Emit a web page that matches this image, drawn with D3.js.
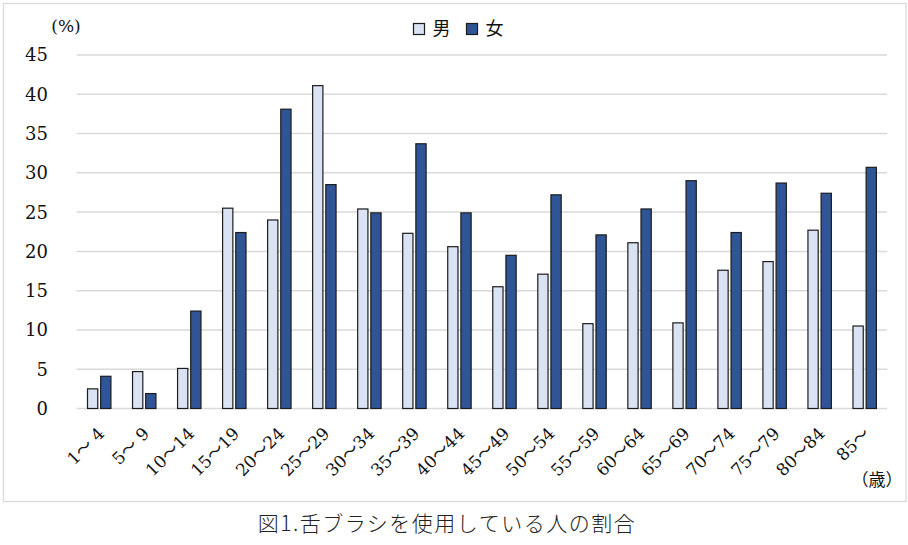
<!DOCTYPE html>
<html>
<head>
<meta charset="utf-8">
<script src="https://cdn.jsdelivr.net/npm/d3@7"></script>
<style>
  body { margin: 0; background: #fff; }
  svg { display: block; }
</style>
</head>
<body>
<div id="wrapper"></div>
<script>
// data
const ageGroups = ["1〜 4", "5〜 9", "10〜14", "15〜19", "20〜24", "25〜29", "30〜34", "35〜39", "40〜44",
                   "45〜49", "50〜54", "55〜59", "60〜64", "65〜69", "70〜74", "75〜79", "80〜84", "85〜"];
const maleValues   = [2.5, 4.7, 5.1, 25.5, 24.0, 41.1, 25.4, 22.3, 20.6, 15.5, 17.1, 10.8, 21.1, 10.9, 17.6, 18.7, 22.7, 10.5];
const femaleValues = [4.1, 1.9, 12.4, 22.4, 38.1, 28.5, 24.9, 33.7, 24.9, 19.5, 27.2, 22.1, 25.4, 29.0, 22.4, 28.7, 27.4, 30.7];
const seriesNames = ["男", "女"];
const yTicks = [0, 5, 10, 15, 20, 25, 30, 35, 40, 45];

const drawChart = () => {
  const dimensions = {
    width: 908,
    height: 545,
    plot: { left: 76.7, right: 887.2, top: 55, bottom: 408.5 }
  };

  const svg = d3.select("#wrapper")
    .append("svg")
    .attr("width", dimensions.width)
    .attr("height", dimensions.height);

  // chart border
  svg.append("rect")
    .attr("x", 3.5).attr("y", 3.5)
    .attr("width", 902.5).attr("height", 498)
    .attr("fill", "#fff")
    .attr("stroke", "#d9d9d9")
    .attr("stroke-width", 1.3);

  const table = ageGroups.map((g, i) => ({ group: g, "男": maleValues[i], "女": femaleValues[i] }));

  // scales
  const x0 = d3.scaleBand()
    .domain(ageGroups)
    .range([dimensions.plot.left, dimensions.plot.right])
    .paddingInner(0.48)
    .paddingOuter(0.24);

  const x1 = d3.scaleBand()
    .domain(seriesNames)
    .range([0, x0.bandwidth()])
    .paddingInner(0.22);

  const yScale = d3.scaleLinear()
    .domain([0, 45])
    .range([dimensions.plot.bottom, dimensions.plot.top]);

  const color = d3.scaleOrdinal()
    .domain(seriesNames)
    .range(["#dae3f3", "#2f5597"]);

  // gridlines
  svg.append("g")
    .selectAll("line")
    .data(yTicks)
    .join("line")
    .attr("x1", dimensions.plot.left)
    .attr("x2", dimensions.plot.right)
    .attr("y1", d => yScale(d))
    .attr("y2", d => yScale(d))
    .attr("stroke", "#d9d9d9")
    .attr("stroke-width", 1.5);

  // y tick labels
  svg.append("g")
    .selectAll("text")
    .data(yTicks)
    .join("text")
    .attr("x", 48)
    .attr("y", d => yScale(d))
    .attr("dy", "0.36em")
    .attr("text-anchor", "end")
    .attr("font-family", "'DejaVu Serif', serif")
    .attr("font-size", 18)
    .attr("fill", "#111")
    .text(d => d);

  // bars
  svg.append("g")
    .selectAll("g")
    .data(table)
    .join("g")
    .attr("transform", d => `translate(${x0(d.group)},0)`)
    .selectAll("rect")
    .data(d => seriesNames.map(k => ({ key: k, value: d[k] })))
    .join("rect")
    .attr("x", d => x1(d.key))
    .attr("y", d => yScale(d.value))
    .attr("width", x1.bandwidth())
    .attr("height", d => yScale(0) - yScale(d.value))
    .attr("fill", d => color(d.key))
    .attr("stroke", "#1c1c1c")
    .attr("stroke-width", 1.2);

  // x labels, rotated
  svg.append("g")
    .selectAll("text")
    .data(ageGroups)
    .join("text")
    .attr("transform", d => `translate(${x0(d) + x0.bandwidth() / 2 + 2},${dimensions.plot.bottom + 22}) rotate(-45)`)
    .attr("dy", "0.35em")
    .attr("text-anchor", "end")
    .attr("font-family", "'DejaVu Serif', 'Noto Sans CJK JP', serif")
    .attr("font-size", 17)
    .attr("fill", "#111")
    .text(d => d);

  // unit labels
  svg.append("text")
    .attr("x", 66).attr("y", 32)
    .attr("text-anchor", "middle")
    .attr("font-family", "'DejaVu Serif', serif")
    .attr("font-size", 17)
    .attr("fill", "#111")
    .text("(%)");

  svg.append("text")
    .attr("x", 877).attr("y", 486)
    .attr("text-anchor", "middle")
    .attr("font-family", "'Noto Sans CJK JP', sans-serif")
    .attr("font-size", 17)
    .attr("fill", "#111")
    .text("（歳）");

  // legend
  const legend = svg.append("g")
    .selectAll("g")
    .data(seriesNames)
    .join("g")
    .attr("transform", (d, i) => `translate(${413.5 + i * 53},23.5)`);

  legend.append("rect")
    .attr("width", 11).attr("height", 11)
    .attr("fill", d => color(d))
    .attr("stroke", "#1c1c1c")
    .attr("stroke-width", 1.2);

  legend.append("text")
    .attr("x", 19).attr("y", 5.5)
    .attr("dy", "0.36em")
    .attr("font-family", "'Noto Sans CJK JP', sans-serif")
    .attr("font-size", 18)
    .attr("font-weight", 400)
    .attr("fill", "#111")
    .text(d => d);

  // caption
  svg.append("text")
    .attr("x", 447).attr("y", 531)
    .attr("text-anchor", "middle")
    .attr("font-family", "'Noto Sans CJK JP', sans-serif")
    .attr("font-size", 21)
    .attr("font-weight", 300)
    .attr("letter-spacing", 1.5)
    .attr("fill", "#222")
    .text("図1.舌ブラシを使用している人の割合");
};

drawChart();
</script>
</body>
</html>
